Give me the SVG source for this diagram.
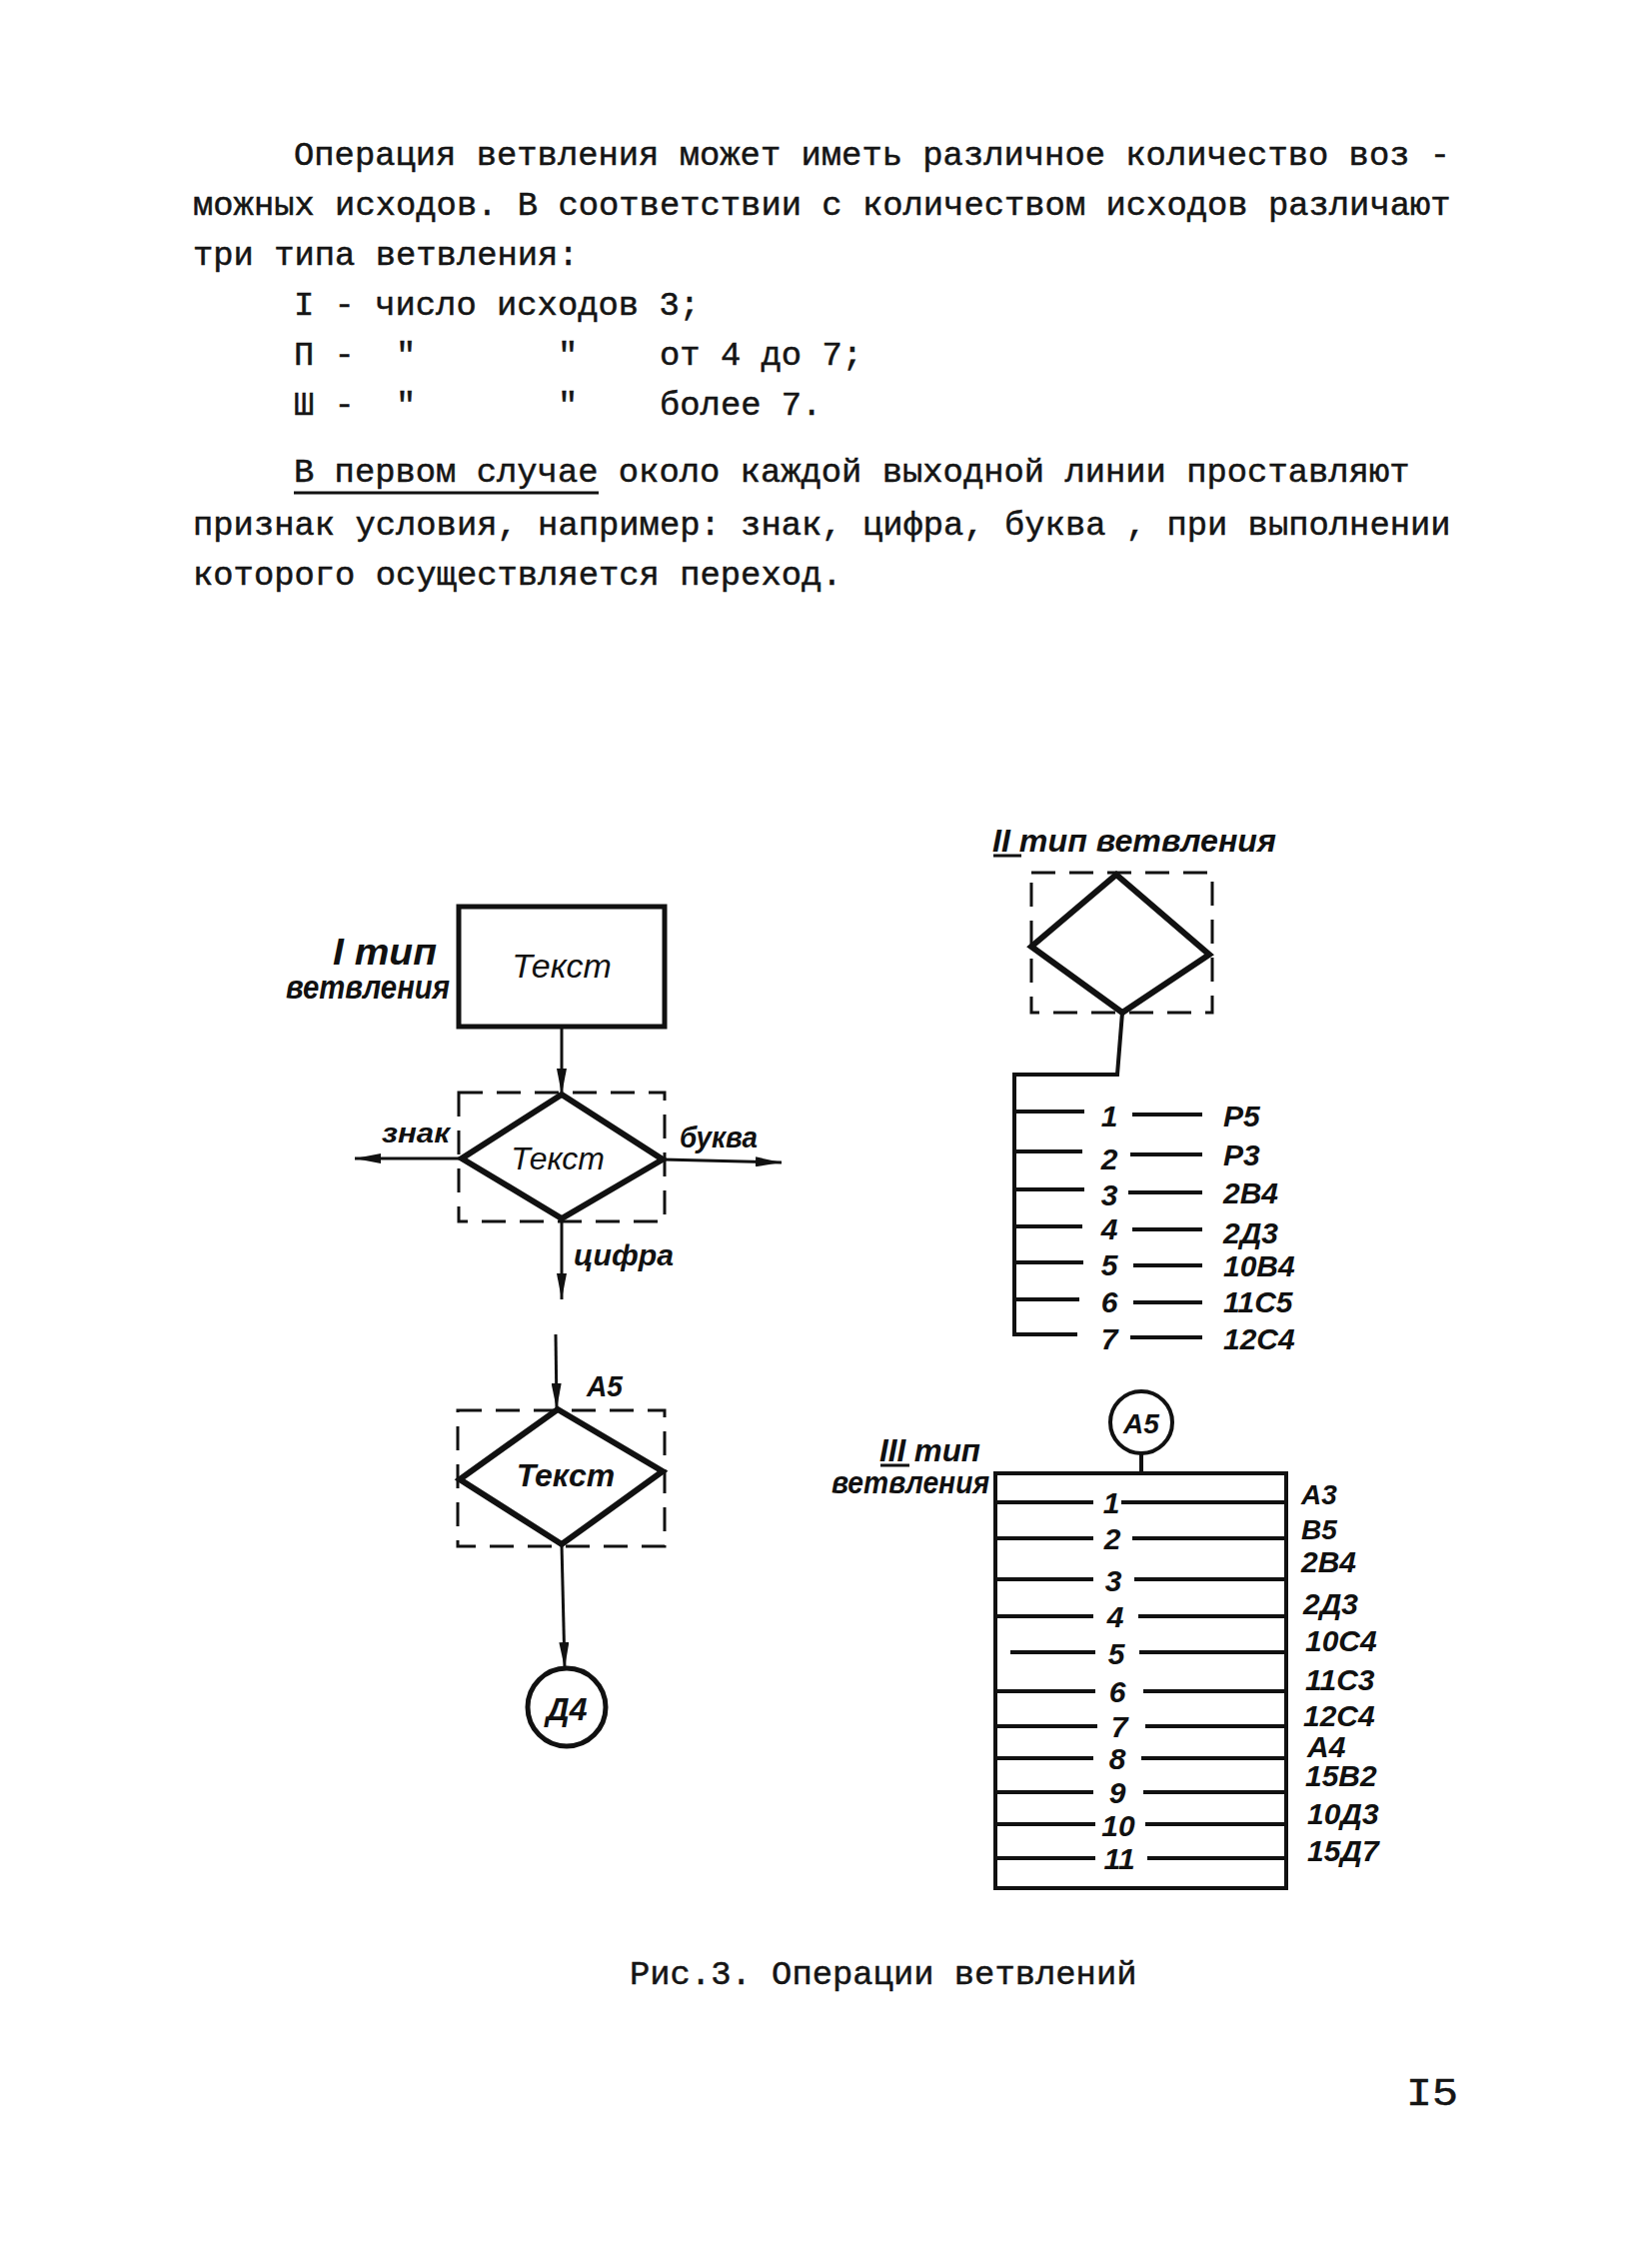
<svg xmlns="http://www.w3.org/2000/svg" width="1653" height="2244" viewBox="0 0 1653 2244">
<style>
.tw{font-family:"Liberation Mono","DejaVu Sans Mono",monospace;font-size:33.83px;fill:#151515;stroke:#151515;stroke-width:0.5}
.hw{font-family:"Liberation Sans","DejaVu Sans",sans-serif;font-style:italic;font-weight:bold;fill:#111}
.it{font-family:"Liberation Sans","DejaVu Sans",sans-serif;font-style:italic;fill:#111}
.box{fill:none;stroke:#111;stroke-width:5}
.dia{fill:none;stroke:#111;stroke-width:6;stroke-linejoin:miter}
.dash{fill:none;stroke:#111;stroke-width:3;stroke-dasharray:24 14}
.ln{fill:none;stroke:#111;stroke-width:3}
.bus{fill:none;stroke:#111;stroke-width:4}
.arr{fill:none;stroke:#111;stroke-width:3;marker-end:url(#ah)}
</style>
<defs>
<marker id="ah" viewBox="0 0 26 10" refX="26" refY="5" markerWidth="26" markerHeight="10" markerUnits="userSpaceOnUse" orient="auto">
<path d="M0,0 L26,5 L0,10 z" fill="#111"/>
</marker>
</defs>
<rect width="1653" height="2244" fill="#fff"/>

<g id="body-text">
<text class="tw" x="294" y="165">Операция ветвления может иметь различное количество воз -</text>
<text class="tw" x="193" y="215">можных исходов. В соответствии с количеством исходов различают</text>
<text class="tw" x="193" y="265">три типа ветвления:</text>
<text class="tw" x="294" y="315">I - число исходов 3;</text>
<text class="tw" x="294" y="365">П -</text>
<text class="tw" x="396" y="365">"</text>
<text class="tw" x="558" y="365">"</text>
<text class="tw" x="660" y="365">от 4 до 7;</text>
<text class="tw" x="294" y="415">Ш -</text>
<text class="tw" x="396" y="415">"</text>
<text class="tw" x="558" y="415">"</text>
<text class="tw" x="660" y="415">более 7.</text>
<text class="tw" x="294" y="482">В первом случае около каждой выходной линии проставляют</text>
<line x1="294" y1="493" x2="599" y2="493" stroke="#111" stroke-width="3"/>
<text class="tw" x="193" y="535">признак условия, например: знак, цифра, буква , при выполнении</text>
<text class="tw" x="193" y="585">которого осуществляется переход.</text>
<text class="tw" x="630" y="1985">Рис.3. Операции ветвлений</text>
<text class="tw" x="1407" y="2106" style="font-size:38px" textLength="52" lengthAdjust="spacingAndGlyphs">I5</text>
</g>

<g id="connectors">
<path class="arr" d="M562,1028 L562,1095"/>
<path class="arr" d="M462,1159 L355,1159"/>
<path class="arr" d="M663,1160 L782,1163"/>
<path class="arr" d="M562,1219 L562,1300"/>
<path class="arr" d="M556,1335 L557,1410"/>
<path class="arr" d="M562,1545 L565,1669"/>
<path class="bus" d="M1123,1013 L1118,1075 L1015,1075 L1015,1337"/>
<path class="bus" d="M1015,1112 H1085 M1015,1152 H1083 M1015,1190 H1085 M1015,1227 H1083 M1015,1263 H1084 M1015,1300 H1080 M1015,1335 H1078"/>
<path class="bus" d="M1133,1115 H1203 M1131,1155 H1203 M1129,1193 H1203 M1133,1230 H1203 M1134,1266 H1203 M1134,1303 H1203 M1131,1338 H1203"/>
<path class="bus" d="M1142,1454 L1142,1474"/>
</g>

<g id="type1-label">
<text class="hw" x="333" y="965" style="font-size:36px" textLength="104" lengthAdjust="spacingAndGlyphs">I тип</text>
<text class="hw" x="286" y="999" style="font-size:33px" textLength="164" lengthAdjust="spacingAndGlyphs">ветвления</text>
</g>

<g id="node-rect1">
<rect class="box" x="459" y="907" width="206" height="120"/>
<text class="it" x="562" y="978" text-anchor="middle" style="font-size:34px">Текст</text>
</g>

<g id="node-diamond1">
<rect class="dash" x="459" y="1093" width="206" height="129"/>
<path class="dia" d="M562,1095 L663,1160 L562,1219 L462,1159 Z"/>
<text class="it" x="558" y="1170" text-anchor="middle" style="font-size:32px">Текст</text>
<text class="hw" x="382" y="1143" style="font-size:28px" textLength="68" lengthAdjust="spacingAndGlyphs">знак</text>
<text class="hw" x="680" y="1148" style="font-size:30px" textLength="78" lengthAdjust="spacingAndGlyphs">буква</text>
<text class="hw" x="574" y="1266" style="font-size:30px" textLength="100" lengthAdjust="spacingAndGlyphs">цифра</text>
</g>

<g id="node-diamond2">
<text class="hw" x="587" y="1397" style="font-size:30px" textLength="36" lengthAdjust="spacingAndGlyphs">А5</text>
<rect class="dash" x="458" y="1411" width="207" height="136"/>
<path class="dia" d="M558,1410 L663,1472 L562,1545 L460,1480 Z"/>
<text class="hw" x="566" y="1487" text-anchor="middle" style="font-size:32px">Текст</text>
</g>

<g id="node-D4">
<circle cx="567" cy="1708" r="39" fill="none" stroke="#111" stroke-width="5"/>
<text class="hw" x="567" y="1721" text-anchor="middle" style="font-size:32px">Д4</text>
</g>

<g id="type2">
<text class="hw" x="993" y="852" style="font-size:32px" textLength="284" lengthAdjust="spacingAndGlyphs">II тип ветвления</text>
<line x1="994" y1="856" x2="1022" y2="856" stroke="#111" stroke-width="3"/>
<rect class="dash" x="1032" y="873" width="181" height="140"/>
<path class="dia" d="M1117,875 L1210,955 L1123,1013 L1032,947 Z"/>
<g class="hw" style="font-size:30px">
<text x="1110" y="1127" text-anchor="middle">1</text>
<text x="1110" y="1170" text-anchor="middle">2</text>
<text x="1110" y="1206" text-anchor="middle">3</text>
<text x="1110" y="1240" text-anchor="middle">4</text>
<text x="1110" y="1276" text-anchor="middle">5</text>
<text x="1110" y="1313" text-anchor="middle">6</text>
<text x="1110" y="1350" text-anchor="middle">7</text>
<text x="1224" y="1127">Р5</text>
<text x="1224" y="1166">Р3</text>
<text x="1224" y="1204">2В4</text>
<text x="1224" y="1244">2Д3</text>
<text x="1224" y="1277">10В4</text>
<text x="1224" y="1313">11С5</text>
<text x="1224" y="1350">12С4</text>
</g>
</g>

<g id="type3">
<text class="hw" x="880" y="1462" style="font-size:32px" textLength="101" lengthAdjust="spacingAndGlyphs">III тип</text>
<line x1="881" y1="1466" x2="910" y2="1466" stroke="#111" stroke-width="3"/>
<text class="hw" x="832" y="1494" style="font-size:32px" textLength="158" lengthAdjust="spacingAndGlyphs">ветвления</text>
<circle cx="1142" cy="1423" r="31" fill="none" stroke="#111" stroke-width="4"/>
<text class="hw" x="1142" y="1434" text-anchor="middle" style="font-size:28px">А5</text>
<rect class="bus" x="996" y="1474" width="291" height="415"/>
<path class="bus" d="M996,1503 H1094 M1122,1503 H1287 M996,1539 H1094 M1133,1539 H1287 M996,1580 H1094 M1135,1580 H1287 M996,1617 H1094 M1139,1617 H1287 M1011,1653 H1096 M1140,1653 H1287 M996,1692 H1096 M1144,1692 H1287 M996,1727 H1098 M1146,1727 H1287 M996,1759 H1094 M1142,1759 H1287 M996,1793 H1094 M1144,1793 H1287 M996,1825 H1096 M1146,1825 H1287 M996,1859 H1096 M1148,1859 H1287"/>
<g class="hw" style="font-size:30px">
<text x="1112" y="1514" text-anchor="middle">1</text>
<text x="1113" y="1550" text-anchor="middle">2</text>
<text x="1114" y="1592" text-anchor="middle">3</text>
<text x="1116" y="1628" text-anchor="middle">4</text>
<text x="1117" y="1665" text-anchor="middle">5</text>
<text x="1118" y="1703" text-anchor="middle">6</text>
<text x="1120" y="1738" text-anchor="middle">7</text>
<text x="1118" y="1770" text-anchor="middle">8</text>
<text x="1118" y="1804" text-anchor="middle">9</text>
<text x="1119" y="1837" text-anchor="middle">10</text>
<text x="1120" y="1870" text-anchor="middle">11</text>
<text x="1302" y="1505" style="font-size:28px">А3</text>
<text x="1302" y="1540" style="font-size:28px">В5</text>
<text x="1302" y="1573">2В4</text>
<text x="1304" y="1615">2Д3</text>
<text x="1306" y="1652">10С4</text>
<text x="1306" y="1691">11С3</text>
<text x="1304" y="1727">12С4</text>
<text x="1308" y="1758">А4</text>
<text x="1306" y="1787">15В2</text>
<text x="1308" y="1825">10Д3</text>
<text x="1308" y="1862">15Д7</text>
</g>
</g>
</svg>
